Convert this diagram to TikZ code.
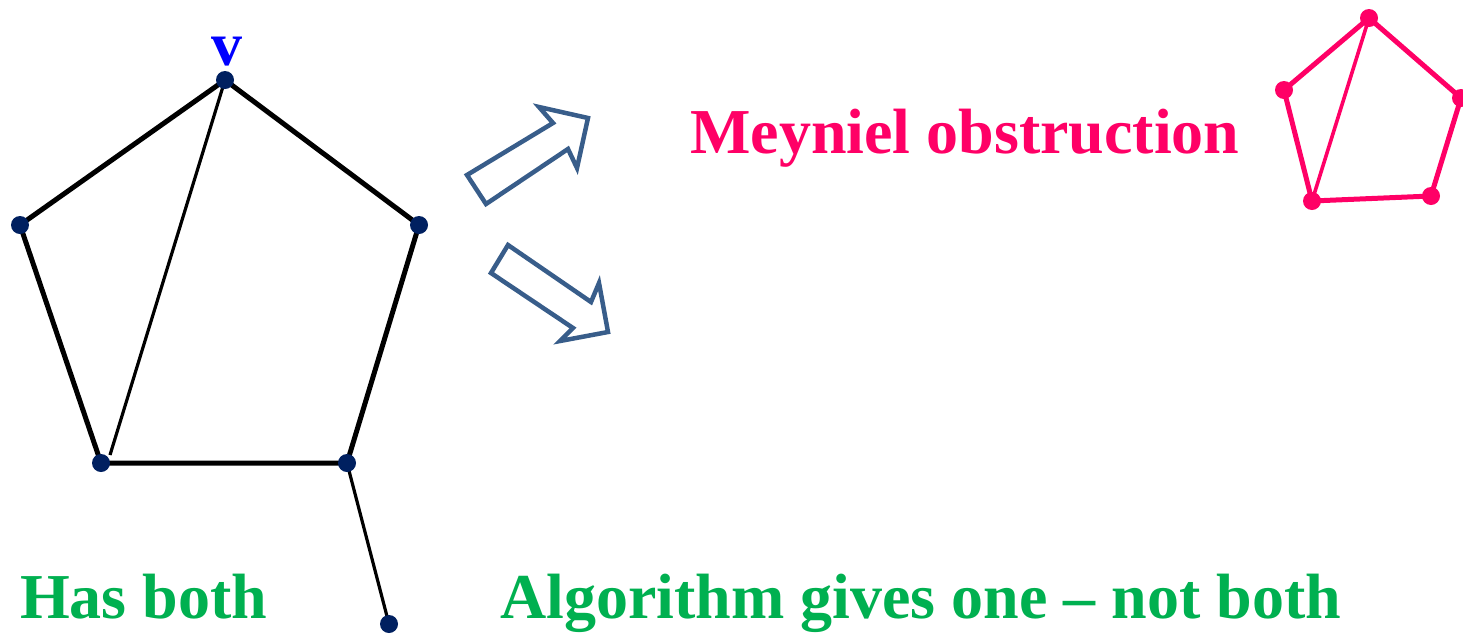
\documentclass[tikz,border=0pt]{standalone}
\usepackage{fontspec}
\setmainfont{Liberation Serif}
\begin{document}
\begin{tikzpicture}[x=1pt,y=-1pt,
  vtx/.style={circle,fill=navy,inner sep=0pt,minimum size=18pt},
  pvtx/.style={circle,fill=hotpink,inner sep=0pt,minimum size=18pt},
  edge/.style={line width=5pt,black},
  chord/.style={line width=3.2pt,black},
  pedge/.style={line width=5pt,hotpink},
  pchord/.style={line width=3.6pt,hotpink},
  blockarrow/.style={draw=steel,line width=4.5pt,line join=miter,fill=white},
  label/.style={font=\fontsize{64}{70}\selectfont\bfseries,inner sep=0pt,anchor=base west}]
\definecolor{navy}{RGB}{0,32,96}
\definecolor{hotpink}{RGB}{255,0,102}
\definecolor{steel}{RGB}{56,93,138}
\definecolor{leaf}{RGB}{0,176,80}
\useasboundingbox (0,0) rectangle (1463,633);

% main graph
\coordinate (v) at (225,80);
\coordinate (l) at (20,225);
\coordinate (r) at (419,225);
\coordinate (bl) at (101,463);
\coordinate (br) at (347,463);
\coordinate (p) at (389,624);
\coordinate (chordend) at (110,455);
\draw[edge] (v) -- (r) -- (br) -- (bl) -- (l) -- cycle;
\draw[chord] (v) -- (chordend);
\draw[chord] (br) -- (p);
\foreach \n in {v,l,r,bl,br,p} \node[vtx] (n\n) at (\n) {};
\node[text=blue,font=\fontsize{62}{70}\selectfont\bfseries,inner sep=0pt,anchor=base] (vlabel) at (227,65) {v};

% block arrows
\draw[blockarrow] (467,175) -- (553,123) -- (539,107) -- (588,118) -- (577,168) -- (568,149) -- (486,204) -- cycle;
\draw[blockarrow] (508,245) -- (591,302) -- (599,283) -- (608,332) -- (560,341) -- (573,328) -- (491,273) -- cycle;

% Meyniel obstruction
\node[label,text=hotpink] (meyniel) at (690,153) {Meyniel obstruction};
\coordinate (pt) at (1369,18);
\coordinate (pl) at (1284,90);
\coordinate (pr) at (1461,98);
\coordinate (pbr) at (1431,196);
\coordinate (pbl) at (1312,201);
\draw[pedge] (pt) -- (pr) -- (pbr) -- (pbl) -- (pl) -- cycle;
\draw[pchord] (pt) -- (pbl);
\foreach \n in {pt,pl,pr,pbr,pbl} \node[pvtx] (n\n) at (\n) {};

% captions
\node[label,text=leaf] (has) at (20,618) {Has both};
\node[label,text=leaf] (algo) at (500,618) {Algorithm gives one – not both};
\end{tikzpicture}
\end{document}
